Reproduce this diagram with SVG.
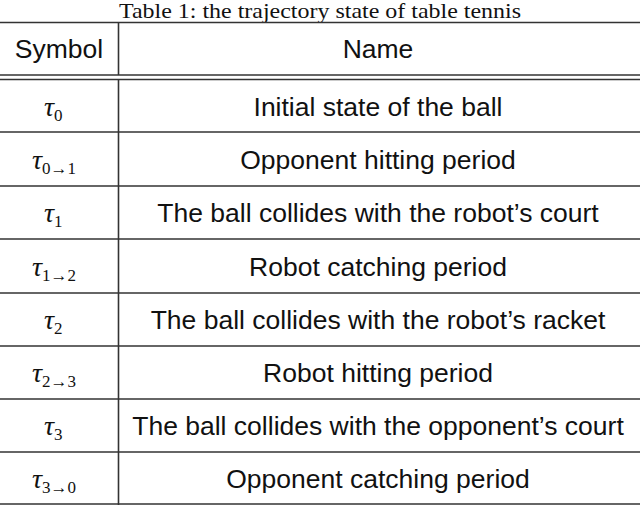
<svg xmlns="http://www.w3.org/2000/svg" width="640" height="505" viewBox="0 0 640 505">
<style>
.r{stroke:#333;stroke-width:1.6}
.t{font-family:"Liberation Sans",sans-serif;font-size:26.5px;fill:#111;text-anchor:middle}
.s{font-family:"Liberation Serif",serif;font-style:italic;font-size:28px;fill:#111}
.b{font-family:"Liberation Serif",serif;font-size:17px;fill:#111}
</style>
<rect width="640" height="505" fill="#fff"/>
<text x="320" y="18" font-family="Liberation Serif,serif" font-size="21" text-anchor="middle" fill="#111" textLength="402" lengthAdjust="spacingAndGlyphs">Table 1: the trajectory state of table tennis</text>
<g id="rules">
<line class="r" x1="0" y1="22.5" x2="640" y2="22.5"/>
<line class="r" x1="0" y1="75" x2="640" y2="75"/>
<line class="r" x1="0" y1="79.5" x2="640" y2="79.5"/>
<line class="r" x1="0" y1="132" x2="640" y2="132"/>
<line class="r" x1="0" y1="186" x2="640" y2="186"/>
<line class="r" x1="0" y1="239" x2="640" y2="239"/>
<line class="r" x1="0" y1="293" x2="640" y2="293"/>
<line class="r" x1="0" y1="346" x2="640" y2="346"/>
<line class="r" x1="0" y1="399" x2="640" y2="399"/>
<line class="r" x1="0" y1="452" x2="640" y2="452"/>
<line class="r" x1="0" y1="504" x2="640" y2="504"/>
<line class="r" x1="118.5" y1="22" x2="118.5" y2="75"/>
<line class="r" x1="118.5" y1="79" x2="118.5" y2="505"/>
</g>
<g id="header">
<text class="t" x="59" y="58">Symbol</text>
<text class="t" x="378" y="58">Name</text>
</g>
<g id="symbols">
<text class="s" x="44" y="116">τ<tspan class="b" font-style="normal" dy="5">0</tspan></text>
<text class="s" x="32" y="169">τ<tspan class="b" font-style="normal" dy="5">0→1</tspan></text>
<text class="s" x="44" y="222">τ<tspan class="b" font-style="normal" dy="5">1</tspan></text>
<text class="s" x="32" y="276">τ<tspan class="b" font-style="normal" dy="5">1→2</tspan></text>
<text class="s" x="44" y="329">τ<tspan class="b" font-style="normal" dy="5">2</tspan></text>
<text class="s" x="32" y="382">τ<tspan class="b" font-style="normal" dy="5">2→3</tspan></text>
<text class="s" x="44" y="435">τ<tspan class="b" font-style="normal" dy="5">3</tspan></text>
<text class="s" x="32" y="488">τ<tspan class="b" font-style="normal" dy="5">3→0</tspan></text>
</g>
<g id="names">
<text class="t" x="378" y="116">Initial state of the ball</text>
<text class="t" x="378" y="169">Opponent hitting period</text>
<text class="t" x="378" y="222">The ball collides with the robot’s court</text>
<text class="t" x="378" y="276">Robot catching period</text>
<text class="t" x="378" y="329">The ball collides with the robot’s racket</text>
<text class="t" x="378" y="382">Robot hitting period</text>
<text class="t" x="378" y="435">The ball collides with the opponent’s court</text>
<text class="t" x="378" y="488">Opponent catching period</text>
</g>
</svg>
